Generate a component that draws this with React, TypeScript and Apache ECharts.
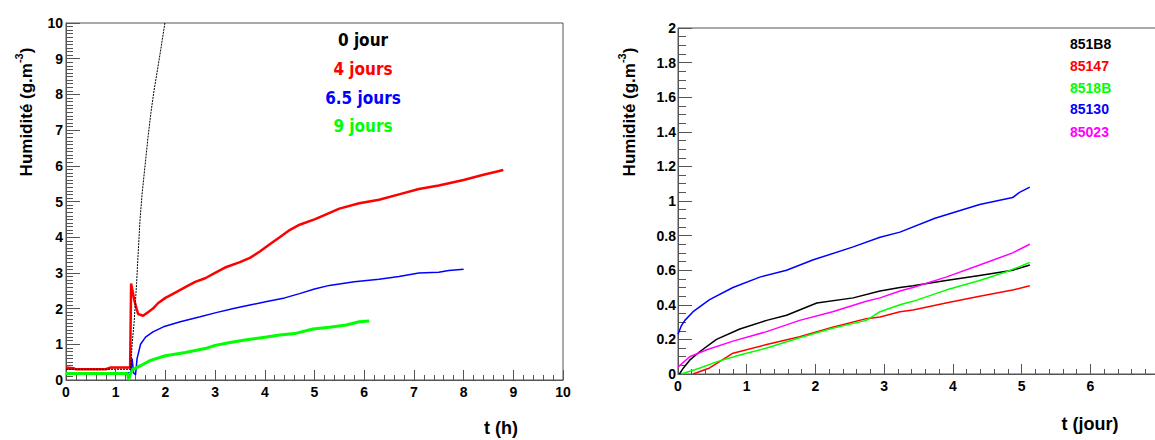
import React, { useEffect, useRef } from "react";
import * as echarts from "echarts";

// ---- Left chart data: Humidité (g.m-3) vs t (h) ----
const leftLegend = ["0 jour", "4 jours", "6.5 jours", "9 jours"];
const leftColors = ["#000000", "#ff0000", "#0000ff", "#00ff00"];
const jour0: [number, number][] = [
  [0, 0.3], [1.3, 0.3], [1.33, 1.0], [1.37, 1.6], [1.42, 2.7], [1.45, 3.5], [1.49, 4.5],
  [1.53, 5.2], [1.59, 6.0], [1.65, 6.8], [1.71, 7.5], [1.77, 8.1], [1.83, 8.6],
  [1.9, 9.2], [1.99, 10.0],
];
const jours4: [number, number][] = [
  [0, 0.35], [0.15, 0.33], [0.2, 0.3], [0.8, 0.3], [0.9, 0.35], [1.29, 0.35], [1.31, 2.7],
  [1.38, 2.2], [1.45, 1.85], [1.55, 1.8], [1.65, 1.9], [1.75, 2.0], [1.85, 2.15],
  [2.0, 2.3], [2.2, 2.45], [2.4, 2.6], [2.6, 2.75], [2.8, 2.85], [3.0, 3.0],
  [3.2, 3.15], [3.5, 3.3], [3.7, 3.42], [3.9, 3.6], [4.1, 3.8], [4.3, 4.0],
  [4.5, 4.2], [4.7, 4.35], [5.0, 4.5], [5.2, 4.62], [5.5, 4.8], [5.9, 4.95],
  [6.3, 5.05], [6.7, 5.2], [7.1, 5.35], [7.5, 5.45], [8.0, 5.6], [8.4, 5.75], [8.8, 5.88],
];
const jours65: [number, number][] = [
  [0, 0.2], [1.3, 0.2], [1.33, 0.6], [1.36, 0.2], [1.4, 0.15], [1.43, 0.6],
  [1.5, 1.0], [1.6, 1.2], [1.75, 1.35], [1.96, 1.49], [2.3, 1.63], [2.7, 1.77],
  [3.0, 1.88], [3.37, 2.0], [3.7, 2.1], [4.04, 2.2], [4.4, 2.3], [4.7, 2.42],
  [5.0, 2.55], [5.3, 2.65], [5.8, 2.75], [6.3, 2.82], [6.7, 2.9], [7.1, 3.0],
  [7.5, 3.02], [7.7, 3.07], [8.0, 3.1],
];
const jours9: [number, number][] = [
  [0, 0.18], [1.24, 0.18], [1.26, 0.0], [1.3, 0.2], [1.35, 0.3], [1.5, 0.4],
  [1.7, 0.55], [2.0, 0.68], [2.4, 0.77], [2.8, 0.88], [3.0, 0.97], [3.3, 1.05],
  [3.6, 1.12], [4.0, 1.2], [4.3, 1.26], [4.6, 1.3], [4.97, 1.43], [5.3, 1.48],
  [5.64, 1.54], [5.9, 1.63], [6.1, 1.65],
];

// ---- Right chart data: Humidité (g.m-3) vs t (jour) ----
const rightLegend = ["851B8", "85147", "8518B", "85130", "85023"];
const rightColors = ["#000000", "#ff0000", "#00ff00", "#0000ff", "#ff00ff"];
const s851B8: [number, number][] = [
  [0.02, 0.0], [0.07, 0.03], [0.17, 0.08], [0.32, 0.13], [0.56, 0.2], [0.9, 0.26],
  [1.29, 0.31], [1.58, 0.34], [2.02, 0.41], [2.55, 0.44], [2.94, 0.48], [3.23, 0.5],
  [3.42, 0.51], [3.9, 0.54], [4.39, 0.57], [4.87, 0.6], [5.12, 0.63],
];
const s85147: [number, number][] = [
  [0.22, 0.0], [0.46, 0.035], [0.8, 0.12], [1.29, 0.17], [1.77, 0.215], [2.25, 0.27],
  [2.74, 0.32], [2.94, 0.33], [3.23, 0.36], [3.42, 0.37], [3.9, 0.41], [4.39, 0.45],
  [4.87, 0.485], [5.12, 0.51],
];
const s8518B: [number, number][] = [
  [0.05, 0.0], [0.32, 0.035], [0.56, 0.07], [0.9, 0.11], [1.29, 0.15], [1.77, 0.21],
  [2.25, 0.265], [2.74, 0.31], [2.94, 0.36], [3.23, 0.4], [3.42, 0.42], [3.9, 0.485],
  [4.39, 0.54], [4.77, 0.59], [4.97, 0.62], [5.12, 0.645],
];
const s85130: [number, number][] = [
  [0.0, 0.23], [0.05, 0.28], [0.1, 0.31], [0.22, 0.36], [0.46, 0.43], [0.8, 0.5],
  [1.19, 0.56], [1.58, 0.6], [1.97, 0.66], [2.55, 0.735], [2.94, 0.79], [3.23, 0.82],
  [3.74, 0.9], [4.39, 0.98], [4.87, 1.02], [4.97, 1.05], [5.12, 1.08],
];
const s85023: [number, number][] = [
  [0.0, 0.04], [0.17, 0.1], [0.42, 0.14], [0.8, 0.19], [1.29, 0.245], [1.77, 0.31],
  [2.25, 0.36], [2.74, 0.42], [2.94, 0.44], [3.23, 0.48], [3.42, 0.5], [3.9, 0.56],
  [4.39, 0.63], [4.87, 0.7], [5.12, 0.75],
];

const leftTicksX = [0, 10, 1];
const leftTicksY = [0, 10, 1];
const rightTicksX = [0, 7, 1];
const rightTicksY = [0, 2, 0.2];

const FONT = "'Liberation Sans', Arial, Helvetica, sans-serif";
const AXIS_COLOR = "#555555";

function axisCommon(minorSplit: number, tickLen: number, minorLen: number, margin: number) {
  return {
    axisLine: { show: true, onZero: false, lineStyle: { color: AXIS_COLOR, width: 1 } },
    axisTick: { show: true, inside: true, length: tickLen, lineStyle: { color: AXIS_COLOR } },
    minorTick: { show: true, splitNumber: minorSplit, length: minorLen, lineStyle: { color: AXIS_COLOR } },
    splitLine: { show: false },
    axisLabel: {
      color: "#000",
      fontFamily: FONT,
      fontWeight: "bold",
      fontSize: 14,
      margin,
    },
  };
}

function yTitle(x: number, y: number) {
  return {
    type: "text",
    x,
    y,
    rotation: Math.PI / 2,
    style: {
      text: "{b|Humidité (g.m}{s|-3}{b|)}",
      align: "center",
      verticalAlign: "middle",
      rich: {
        b: { font: `bold 17px ${FONT}`, fill: "#000", lineHeight: 22, verticalAlign: "bottom" },
        s: { font: `bold 11px ${FONT}`, fill: "#000", lineHeight: 22, verticalAlign: "top" },
      },
    },
  };
}

export default function App() {
  const ref = useRef<HTMLDivElement>(null);
  useEffect(() => {
    if (!ref.current) return;
    const chart = echarts.init(ref.current, undefined, { renderer: "svg" });
    const leftData = [jour0, jours4, jours65, jours9];
    const leftWidths = [1, 2.5, 1.5, 3];
    const rightData = [s851B8, s85147, s8518B, s85130, s85023];

    const series: any[] = [];
    [0, 2, 1, 3].forEach((i) => {
      series.push({
        type: "line",
        name: leftLegend[i],
        xAxisIndex: 0,
        yAxisIndex: 0,
        data: leftData[i],
        showSymbol: false,
        lineStyle: {
          color: leftColors[i],
          width: leftWidths[i],
          type: i === 0 ? [2, 1] : "solid",
        },
        itemStyle: { color: leftColors[i] },
        z: i === 0 ? 5 : 3,
      });
    });
    rightData.forEach((d, i) => {
      series.push({
        type: "line",
        name: rightLegend[i],
        xAxisIndex: 1,
        yAxisIndex: 1,
        data: d,
        showSymbol: false,
        lineStyle: { color: rightColors[i], width: 1.5 },
        itemStyle: { color: rightColors[i] },
      });
    });

    const graphics: any[] = [];
    graphics.push(yTitle(24, 112));
    graphics.push(yTitle(627, 112));
    graphics.push({
      type: "text",
      x: 501,
      y: 428,
      style: { text: "t (h)", font: `bold 18px ${FONT}`, fill: "#000", align: "center", verticalAlign: "middle" },
    });
    graphics.push({
      type: "text",
      x: 1090,
      y: 424,
      style: { text: "t (jour)", font: `bold 18px ${FONT}`, fill: "#000", align: "center", verticalAlign: "middle" },
    });
    const leftLegY = [40, 69, 98, 126];
    leftLegend.forEach((t, i) => {
      graphics.push({
        type: "text",
        x: 363,
        y: leftLegY[i],
        style: {
          text: t,
          font: `bold 17px 'DejaVu Sans Condensed', 'DejaVu Sans', sans-serif`,
          fill: leftColors[i],
          align: "center",
          verticalAlign: "middle",
        },
      });
    });
    const rightLegY = [44, 66, 88, 109, 132];
    rightLegend.forEach((t, i) => {
      graphics.push({
        type: "text",
        x: 1070,
        y: rightLegY[i],
        style: {
          text: t,
          font: `bold 14px ${FONT}`,
          fill: rightColors[i],
          align: "left",
          verticalAlign: "middle",
        },
      });
    });

    const rightX = axisCommon(5, 10, 5, 5);
    chart.setOption({
      animation: false,
      backgroundColor: "#ffffff",
      grid: [
        { left: 66, top: 23, width: 497, height: 357, show: true, borderColor: AXIS_COLOR, borderWidth: 1, backgroundColor: "transparent", outerBoundsMode: "none", containLabel: false },
        { left: 678, top: 28, width: 481, height: 346, show: true, borderColor: AXIS_COLOR, borderWidth: 1, backgroundColor: "transparent", outerBoundsMode: "none", containLabel: false },
      ],
      xAxis: [
        {
          type: "value",
          gridIndex: 0,
          min: leftTicksX[0],
          max: leftTicksX[1],
          interval: leftTicksX[2],
          ...axisCommon(5, 10, 5, 5),
        },
        {
          type: "value",
          gridIndex: 1,
          min: rightTicksX[0],
          max: rightTicksX[1],
          interval: rightTicksX[2],
          ...rightX,
          axisLabel: { ...rightX.axisLabel, showMaxLabel: false },
        },
      ],
      yAxis: [
        {
          type: "value",
          gridIndex: 0,
          min: leftTicksY[0],
          max: leftTicksY[1],
          interval: leftTicksY[2],
          ...axisCommon(10, 14, 7, 3),
        },
        {
          type: "value",
          gridIndex: 1,
          min: rightTicksY[0],
          max: rightTicksY[1],
          interval: rightTicksY[2],
          ...axisCommon(4, 14, 8, 2),
          axisLabel: {
            color: "#000",
            fontFamily: FONT,
            fontWeight: "bold",
            fontSize: 14,
            margin: 2,
            formatter: (v: number) => String(Math.round(v * 10) / 10),
          },
        },
      ],
      series,
      graphic: graphics,
    });
    return () => chart.dispose();
  }, []);
  return (
    <div
      ref={ref}
      style={{ position: "absolute", left: 0, top: 0, width: 1155, height: 440, overflow: "hidden" }}
    />
  );
}
